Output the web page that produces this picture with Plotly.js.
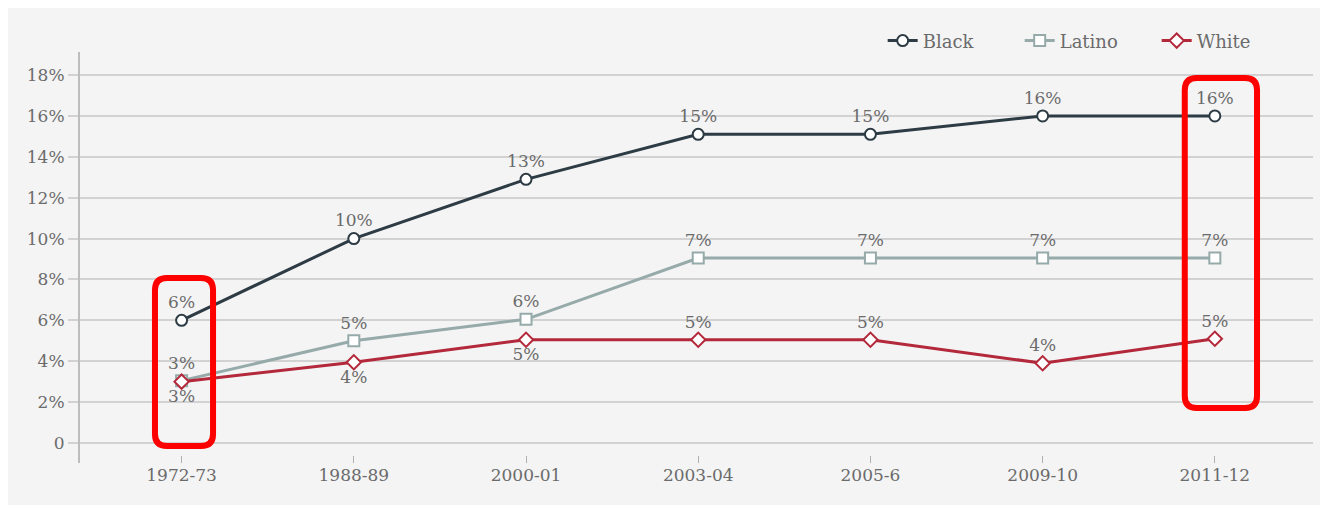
<!DOCTYPE html>
<html>
<head>
<meta charset="utf-8">
<script src="https://cdn.plot.ly/plotly-3.0.1.min.js"></script>
<style>
  html, body { margin: 0; padding: 0; background: #ffffff; width: 1320px; height: 505px; overflow: hidden; }
  #chart { position: absolute; left: 8px; top: 8px; width: 1312px; height: 497px; }
</style>
</head>
<body>
<div id="chart"></div>
<script>
const categories = ['1972-73', '1988-89', '2000-01', '2003-04', '2005-6', '2009-10', '2011-12'];

const blackValues = [6, 10, 12.9, 15.1, 15.1, 16, 16];
const blackLabels = ['6%', '10%', '13%', '15%', '15%', '16%', '16%'];

const latinoValues = [3.05, 5, 6.05, 9.05, 9.05, 9.05, 9.05];
const latinoLabels = ['3%', '5%', '6%', '7%', '7%', '7%', '7%'];

const whiteValues = [3, 3.95, 5.05, 5.05, 5.05, 3.9, 5.1];
const whiteLabels = ['3%', '4%', '5%', '5%', '5%', '4%', '5%'];
const whiteLabelPos = ['bottom center', 'bottom center', 'bottom center', 'top center', 'top center', 'top center', 'top center'];

const yTickVals = [0, 2, 4, 6, 8, 10, 12, 14, 16, 18];
const yTickText = ['0', '2%', '4%', '6%', '8%', '10%', '12%', '14%', '16%', '18%'];

const FONT = 'DejaVu Serif, Liberation Serif, serif';
const TEXT_COLOR = '#6b6b6b';

function series(name, y, labels, color, symbol, pos) {
  return {
    type: 'scatter',
    mode: 'lines+markers+text',
    name: name,
    x: categories,
    y: y,
    text: labels,
    textposition: pos,
    textfont: { family: FONT, size: 17, color: TEXT_COLOR },
    line: { color: color, width: 3 },
    marker: { symbol: symbol, size: 11, color: '#ffffff', line: { color: color, width: 2 } },
    cliponaxis: false,
    hoverinfo: 'x+y+name'
  };
}

const data = [
  series('Black', blackValues, blackLabels, '#2d3b44', 'circle', 'top center'),
  series('Latino', latinoValues, latinoLabels, '#95aaa9', 'square', 'top center'),
  series('White', whiteValues, whiteLabels, '#b3283a', 'diamond', whiteLabelPos)
];

// rounded rectangle path in paper coords
function roundRect(x0, y0, x1, y1, rx, ry) {
  return 'M ' + (x0 + rx) + ',' + y1 +
    ' L ' + (x1 - rx) + ',' + y1 +
    ' Q ' + x1 + ',' + y1 + ' ' + x1 + ',' + (y1 - ry) +
    ' L ' + x1 + ',' + (y0 + ry) +
    ' Q ' + x1 + ',' + y0 + ' ' + (x1 - rx) + ',' + y0 +
    ' L ' + (x0 + rx) + ',' + y0 +
    ' Q ' + x0 + ',' + y0 + ' ' + x0 + ',' + (y0 + ry) +
    ' L ' + x0 + ',' + (y1 - ry) +
    ' Q ' + x0 + ',' + y1 + ' ' + (x0 + rx) + ',' + y1 + ' Z';
}

const rx = 12 / 1233, ry = 12 / 411;

const layout = {
  width: 1312,
  height: 497,
  paper_bgcolor: '#f4f4f4',
  plot_bgcolor: '#f4f4f4',
  margin: { l: 72, r: 7, t: 44, b: 42 },
  font: { family: FONT, color: TEXT_COLOR, size: 17 },
  showlegend: true,
  legend: {
    orientation: 'h',
    x: 0.651, xanchor: 'left',
    y: 1.027, yanchor: 'middle',
    bgcolor: 'rgba(0,0,0,0)',
    font: { family: FONT, size: 18, color: TEXT_COLOR },
    entrywidth: 92,
    entrywidthmode: 'pixels',
    traceorder: 'normal'
  },
  xaxis: {
    type: 'category',
    range: [-0.59, 6.57],
    showgrid: false,
    zeroline: false,
    showline: false,
    ticks: 'inside',
    ticklen: 7,
    tickcolor: '#b0b0b0',
    tickwidth: 1,
    tickfont: { family: FONT, size: 17, color: TEXT_COLOR }
  },
  yaxis: {
    range: [-0.98, 19.13],
    tickvals: yTickVals,
    ticktext: yTickText,
    showgrid: true,
    gridcolor: '#d2d2d2',
    gridwidth: 2,
    zeroline: false,
    showline: true,
    linecolor: '#bdbdbd',
    linewidth: 2,
    ticks: 'outside',
    ticklen: 10,
    tickcolor: '#d2d2d2',
    tickwidth: 2,
    tickfont: { family: FONT, size: 17, color: TEXT_COLOR }
  },
  shapes: [
    {
      type: 'path', xref: 'paper', yref: 'paper',
      path: roundRect(0.0608, 0.0414, 0.1079, 0.450, rx, ry),
      line: { color: '#ff0000', width: 6 },
      fillcolor: 'rgba(0,0,0,0)'
    },
    {
      type: 'path', xref: 'paper', yref: 'paper',
      path: roundRect(0.896, 0.1338, 0.9546, 0.9367, rx, ry),
      line: { color: '#ff0000', width: 6 },
      fillcolor: 'rgba(0,0,0,0)'
    }
  ]
};

Plotly.newPlot('chart', data, layout, { displayModeBar: false, staticPlot: true });
</script>
</body>
</html>
